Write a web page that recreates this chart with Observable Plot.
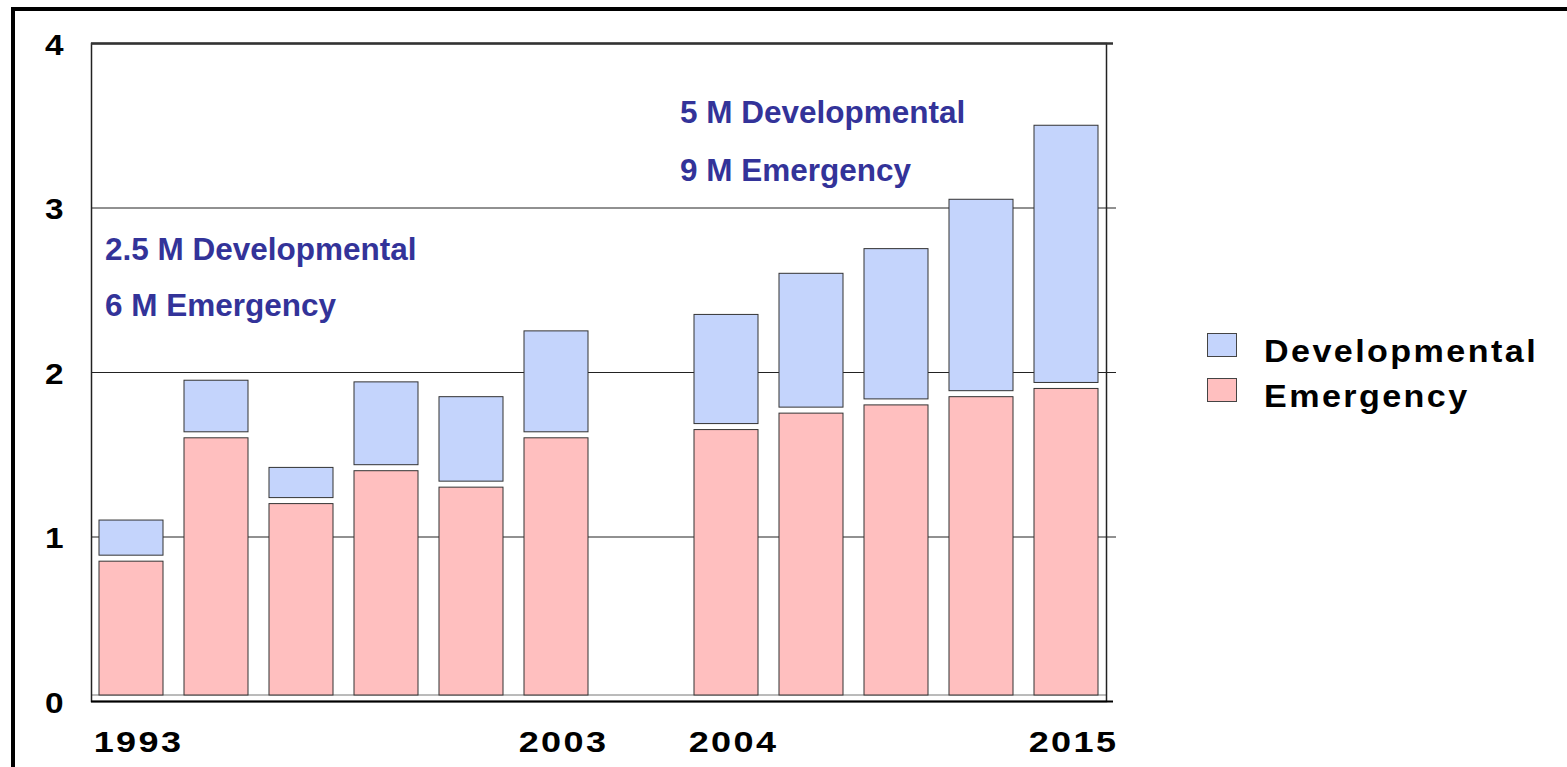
<!DOCTYPE html>
<html><head><meta charset="utf-8">
<script src="https://cdn.jsdelivr.net/npm/d3@7"></script>
<script src="https://cdn.jsdelivr.net/npm/@observablehq/plot@0.6"></script>
<style>
body{margin:0;background:#fff;font-family:"Liberation Sans",Arial,sans-serif;}
#wrap{position:relative;width:1567px;height:767px;overflow:hidden;background:#fff;}
#wrap svg{position:absolute;left:0;top:0;}
#border{position:absolute;left:11px;top:7px;width:1700px;height:900px;border-left:4px solid #000;border-top:4px solid #000;pointer-events:none;}
.note{position:absolute;font-weight:bold;font-size:31.5px;line-height:31.5px;color:#333399;white-space:nowrap;}
.sw{position:absolute;width:30px;height:24px;border:1px solid #444;box-sizing:border-box;}
.lt{position:absolute;font-weight:bold;font-size:31px;line-height:31px;letter-spacing:2.2px;color:#000;white-space:nowrap;transform:scaleX(1.1);transform-origin:left center;}
svg g[aria-label="x-axis tick label"] text{letter-spacing:2px;}
</style>
</head><body>
<div id="wrap"><div id="border"></div></div>
<script>
// ---- data ----
const slots = ["1993","s2","s3","s4","s5","2003","gap","2004","s9","s10","s11","2015"];
const emergency = [0.85, 1.60, 1.20, 1.40, 1.30, 1.60, null, 1.65, 1.75, 1.80, 1.85, 1.90];
const developmental = [0.25, 0.35, 0.22, 0.54, 0.55, 0.65, null, 0.70, 0.85, 0.95, 1.20, 1.60];
const yTicks = [0, 1, 2, 3, 4];
const seriesNames = ["Developmental", "Emergency"];
const seriesColors = ["#C4D4FC", "#FFBFBF"];
const notes = [
  ["2.5 M Developmental", 105, 234],
  ["6 M Emergency", 105, 290],
  ["5 M Developmental", 680, 97],
  ["9 M Emergency", 680, 155]
];

const rows = slots.map((s, i) => ({slot: s, emergency: emergency[i], top: emergency[i] == null ? null : emergency[i] + developmental[i]}))
  .filter(d => d.emergency != null);

const chart = Plot.plot({
  width: 1567, height: 767,
  marginLeft: 91, marginTop: 43, marginRight: 461, marginBottom: 66,
  style: {fontFamily: "Liberation Sans, Arial, sans-serif", background: "transparent", color: "#000"},
  x: {domain: slots, paddingInner: 0.25, paddingOuter: 0.09, axis: null, label: null},
  y: {domain: [0, 4], axis: null, label: null},
  marks: [
    Plot.ruleY([1, 2, 3], {stroke: "#222", strokeWidth: 1, insetRight: -10}),
    Plot.ruleY([0], {stroke: "#777", strokeWidth: 1, dy: -6.5}),
    Plot.barY(rows, {x: "slot", y1: 0, y2: "emergency", fill: seriesColors[1], stroke: "#333", strokeWidth: 1, insetBottom: 6}),
    Plot.barY(rows, {x: "slot", y1: "emergency", y2: "top", fill: seriesColors[0], stroke: "#333", strokeWidth: 1, insetBottom: 6}),
    Plot.frame({stroke: "#222", strokeWidth: 1.5}),
    Plot.ruleY([4], {stroke: "#333", strokeWidth: 2.5, insetRight: -7}),
    Plot.ruleY([0], {stroke: "#000", strokeWidth: 2, insetRight: -7}),
    Plot.axisY({ticks: yTicks, tickSize: 0, tickPadding: 28, fontSize: 29, fontWeight: "bold", dy: 2, label: null, tickFormat: d => String(d)}),
    Plot.axisX({tickSize: 0, tickPadding: 29, fontSize: 30, fontWeight: "bold", dx: 7, label: null, tickFormat: d => /^\d{4}$/.test(d) ? d : ""})
  ]
});
const wrap = document.getElementById("wrap");
wrap.insertBefore(chart, wrap.firstChild);

// horizontally widen the axis tick labels (the reference uses wide bold glyphs)
function widen(selector, s) {
  chart.querySelectorAll(selector).forEach(t => {
    const tr = t.getAttribute("transform");
    if (tr) {
      t.setAttribute("transform", tr + ` scale(${s},1)`);
    } else {
      const x = +t.getAttribute("x") || 0, y = +t.getAttribute("y") || 0;
      t.setAttribute("x", 0); t.setAttribute("y", 0);
      t.setAttribute("transform", `translate(${x},${y}) scale(${s},1)`);
    }
  });
}
widen('g[aria-label="x-axis tick label"] text', 1.2);
widen('g[aria-label="y-axis tick label"] text', 1.15);

for (const [t, x, y] of notes) {
  const n = document.createElement("div");
  n.className = "note"; n.textContent = t;
  n.style.left = x + "px"; n.style.top = y + "px";
  wrap.appendChild(n);
}
seriesNames.forEach((name, i) => {
  const sw = document.createElement("div");
  sw.className = "sw"; sw.style.background = seriesColors[i];
  sw.style.left = "1207px"; sw.style.top = (333 + i * 45) + "px";
  wrap.appendChild(sw);
  const lt = document.createElement("div");
  lt.className = "lt"; lt.textContent = name;
  lt.style.left = "1264px"; lt.style.top = (336 + i * 45) + "px";
  wrap.appendChild(lt);
});
</script>
</body></html>
